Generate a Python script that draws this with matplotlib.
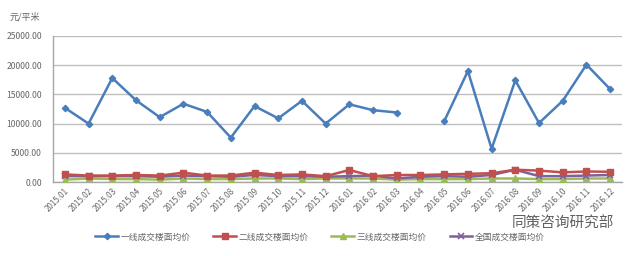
import numpy as np
import matplotlib
matplotlib.use("Agg")
import matplotlib.pyplot as plt

plt.rcParams['font.family'] = ['Noto Sans CJK SC', 'DejaVu Sans']

months = ["2015.01","2015.02","2015.03","2015.04","2015.05","2015.06","2015.07","2015.08",
          "2015.09","2015.10","2015.11","2015.12","2016.01","2016.02","2016.03","2016.04",
          "2016.05","2016.06","2016.07","2016.08","2016.09","2016.10","2016.11","2016.12"]
tier1 = [12700,10000,17800,14000,11100,13400,12000,7600,13000,10900,13900,10000,
         13300,12300,11900,np.nan,10400,19000,5700,17400,10100,13900,20100,15900]
tier2 = [1300,1100,1100,1200,1100,1600,1100,1100,1600,1200,1300,1000,
         2050,1000,1200,1200,1300,1400,1500,2100,1950,1650,1800,1750]
tier3 = [400,600,500,500,400,600,500,500,600,600,500,600,
         600,600,400,500,500,500,600,600,500,500,600,600]
national = [1000,1000,1000,1000,900,1100,1000,900,1200,1000,1000,900,
            1000,1100,600,900,1000,900,1200,2100,1000,1000,1100,1200]
labels = ["一线成交楼面均价", "二线成交楼面均价", "三线成交楼面均价", "全国成交楼面均价"]
yticks = [0, 5000, 10000, 15000, 20000, 25000]

fig = plt.figure(figsize=(6.4, 2.56), dpi=100)
ax = fig.add_axes([53/640, 1-182/256, 569/640, 146/256])
x = np.arange(len(months))

c1, c2, c3, c4 = "#4A7EBB", "#C0504D", "#9BBB59", "#7F5FA0"
l1, = ax.plot(x, tier1, color=c1, lw=1.8, marker="D", ms=3.2, label=labels[0], zorder=5)
l2, = ax.plot(x, tier2, color=c2, lw=1.8, marker="s", ms=4, label=labels[1], zorder=4)
l3, = ax.plot(x, tier3, color=c3, lw=1.8, marker="^", ms=4, label=labels[2], zorder=3)
l4, = ax.plot(x, national, color=c4, lw=1.8, marker="x", ms=4, mew=1.2, label=labels[3], zorder=3.5)

ax.set_xlim(-0.5, len(months)-0.5)
ax.set_ylim(0, 25000)
ax.set_yticks(yticks)
ax.set_yticklabels([f"{v:.2f}" for v in yticks])
ax.set_xticks(x)
ax.set_xticklabels(months, rotation=45, ha="right", rotation_mode="anchor")
ax.tick_params(axis="y", length=0, pad=8, labelsize=6.2, labelcolor="#666666")
ax.tick_params(axis="x", length=0, pad=3, labelsize=5.8, labelcolor="#666666")
ax.grid(axis="y", color="#BFBFBF", lw=1)
ax.set_axisbelow(True)
for s in ["top", "right"]:
    ax.spines[s].set_visible(False)
for s in ["left", "bottom"]:
    ax.spines[s].set_color("#A6A6A6")
    ax.spines[s].set_linewidth(1)

fig.text(10/640, 1-17/256, "元/平米", fontsize=6.5, color="#666666", va="center", ha="left")

fig.legend(handles=[l1, l2, l3, l4], loc="center", bbox_to_anchor=(0.5, 1-237/256),
           ncol=4, frameon=False, fontsize=6.3, handlelength=2.6, handletextpad=0.3,
           columnspacing=2.6, labelcolor="#666666")

fig.text(512/640, 1-224/256, "同策咨询研究部", fontsize=10.5, color="#444444",
         va="center", ha="left", alpha=0.85)

fig.savefig("out.png", dpi=100)
